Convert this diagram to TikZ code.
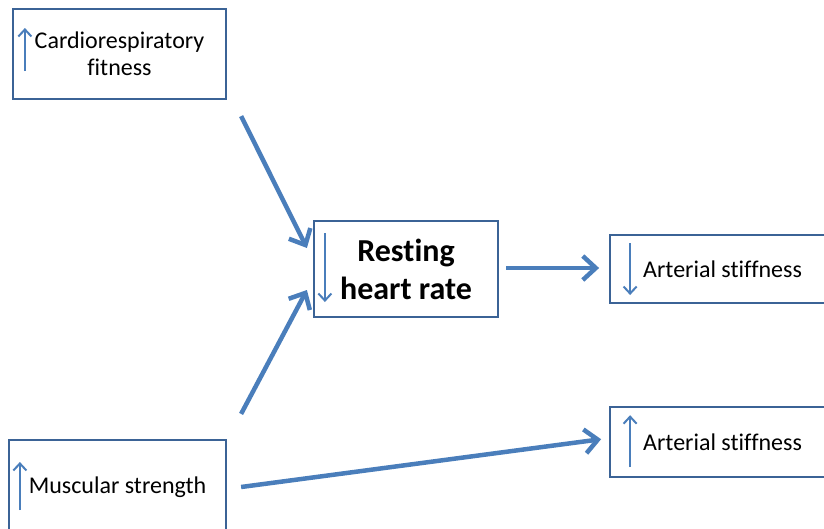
\documentclass[tikz,border=0pt]{standalone}
\usepackage{fontspec}
\setmainfont[Ligatures={NoCommon,NoRequired,NoContextual}]{Carlito}
\usetikzlibrary{positioning,arrows.meta,calc}
\definecolor{boxline}{HTML}{3B6396}
\definecolor{arrowblue}{HTML}{4A7EBB}
\tikzset{
  factor/.style={draw=boxline,line width=2.2pt,fill=white,inner sep=0pt,align=center,
    font=\fontsize{24}{27}\selectfont},
  sidebox/.style={factor,minimum height=68pt,inner xsep=33pt,text width=164pt,align=flush left},
  link/.style={draw=arrowblue,line width=4.5pt,-{Straight Barb[length=13pt,width=24pt]}},
  trend/.style={draw=arrowblue,line width=2pt,-{Straight Barb[length=7pt,width=13pt]}},
}
\begin{document}
\begin{tikzpicture}[x=1pt,y=-1pt]
\useasboundingbox (0,0) rectangle (824,528);

\node[factor,minimum width=213pt,minimum height=90pt] (cf) at (119.5,54) {Cardiorespiratory\\fitness};
\node[factor,minimum width=184pt,minimum height=96pt,font=\bfseries\fontsize{32}{38}\selectfont] (rhr) at (406,269) {Resting\\heart rate};
\node[factor,minimum width=217pt,minimum height=94pt] (ms) at (117.5,487) {Muscular strength};
\node[sidebox,right=110pt of rhr] (asd) {Arterial stiffness};
\node[sidebox,minimum height=70pt,below=102pt of asd] (asu) {Arterial stiffness};

% up / down markers inside the boxes
\draw[trend] ($(cf.west)+(13,17)$) -- ($(cf.west)+(13,-26)$);
\draw[trend] ($(rhr.west)+(12,-36)$) -- ($(rhr.west)+(12,33)$);
\draw[trend] ($(asd.west)+(21,-26)$) -- ($(asd.west)+(21,26)$);
\draw[trend] ($(asu.west)+(21,25)$) -- ($(asu.west)+(21,-27)$);
\draw[trend] ($(ms.west)+(12,23)$) -- ($(ms.west)+(12,-25)$);

% links
\draw[link] ($(cf.south east)+(14,16)$) -- ($(rhr.west)+(-6,-21)$);
\draw[link] ($(ms.north east)+(14,-25)$) -- ($(rhr.west)+(-6,21)$);
\draw[link] ($(rhr.east)+(7,-1)$) -- ($(asd.west)+(-10,-1)$);
\draw[link] ($(ms.east)+(14,0)$) -- ($(asu.west)+(-8,-3)$);

\end{tikzpicture}
\end{document}
